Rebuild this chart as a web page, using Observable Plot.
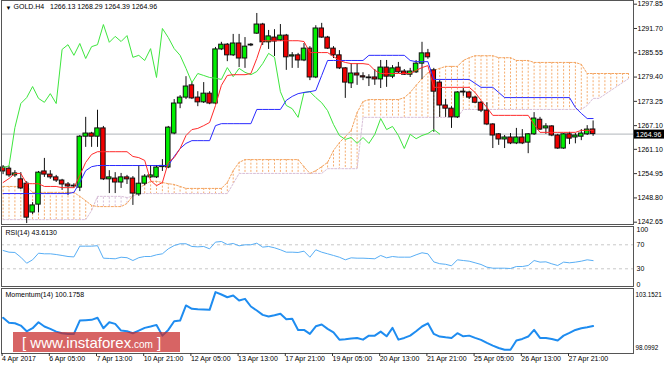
<!DOCTYPE html>
<html><head><meta charset="utf-8">
<script src="https://cdn.jsdelivr.net/npm/d3@7"></script>
<script src="https://cdn.jsdelivr.net/npm/@observablehq/plot@0.6"></script>
<style>
html,body{margin:0;padding:0;background:#fff;}
#wrap{position:relative;width:664px;height:369px;overflow:hidden;background:#fff;}
.panel{position:absolute;left:0;}
#wm{position:absolute;left:13px;top:332px;width:167px;height:20px;background:rgba(200,40,40,0.72);color:#fff;
 font-family:"Liberation Sans",Arial,sans-serif;font-size:15px;line-height:21px;white-space:pre;padding-left:9px;box-sizing:border-box;}
#wm .s{font-size:10px;}
</style></head><body>
<div id="wrap">
 <div id="main" class="panel" style="top:0"></div>
 <div id="rsi" class="panel" style="top:226px"></div>
 <div id="mom" class="panel" style="top:288px"></div>
 <div id="wm">[ www.instaforex<span class="s">.com</span> ]</div>
</div>
<script>
// ---------- data ----------
const symbol = "GOLD.H4";
const open  = [1256.5,1256.2,1254.5,1253.5,1252.4,1245.1,1247.1,1255.5,1254.7,1254.0,
 1253.2,1252.2,1251.7,1251.4,1264.3,1265.1,1264.3,1266.4,1253.5,1253.7,
 1252.7,1254.0,1253.7,1249.7,1252.4,1254.0,1254.0,1256.6,1256.5,1265.1,
 1272.7,1274.2,1277.3,1274.2,1273.0,1275.2,1272.7,1286.4,1287.6,1284.9,
 1287.9,1284.1,1287.4,1290.4,1292.7,1288.2,1289.4,1288.7,1289.9,1284.6,
 1284.9,1283.6,1286.6,1279.3,1291.7,1289.4,1286.6,1284.9,1281.6,1277.8,
 1280.3,1279.6,1279.3,1279.3,1278.8,1281.8,1279.5,1281.8,1280.8,1280.0,
 1280.6,1282.8,1285.4,1281.1,1278.0,1272.2,1271.4,1269.2,1275.5,1275.5,
 1274.2,1272.9,1270.9,1267.4,1264.9,1263.6,1264.1,1262.6,1264.1,1262.8,
 1264.9,1268.6,1266.4,1266.9,1264.6,1261.3,1264.9,1264.1,1264.3,1264.9,
 1266.13];
const high  = [1257.0,1256.8,1255.7,1255.2,1252.9,1247.6,1255.5,1258.8,1255.7,1254.5,
 1253.5,1252.7,1252.4,1264.6,1269.2,1265.4,1271.0,1266.9,1255.7,1255.2,
 1255.0,1254.5,1254.2,1257.0,1254.7,1257.0,1257.0,1258.5,1266.9,1273.7,
 1274.7,1279.5,1278.0,1275.7,1278.0,1275.7,1286.9,1288.2,1287.9,1290.2,
 1290.2,1289.4,1287.9,1295.5,1293.0,1291.2,1291.4,1292.7,1290.2,1285.6,
 1285.4,1287.9,1287.1,1292.4,1293.0,1289.7,1287.1,1286.1,1281.8,1282.8,
 1282.8,1280.5,1280.0,1281.3,1283.6,1283.6,1282.3,1283.1,1281.3,1281.6,
 1283.6,1288.2,1286.4,1281.6,1278.5,1273.7,1271.9,1275.7,1276.5,1275.7,
 1274.5,1273.2,1272.9,1267.6,1265.1,1264.6,1265.1,1266.4,1266.1,1265.1,
 1270.4,1269.2,1267.6,1267.1,1264.9,1265.1,1265.4,1265.1,1266.1,1267.1,
 1268.29];
const low   = [1254.7,1254.0,1254.0,1250.9,1242.3,1244.6,1245.0,1254.0,1253.5,1252.7,
 1250.7,1249.4,1251.2,1250.4,1261.6,1261.6,1261.6,1253.2,1249.9,1249.9,
 1251.2,1252.2,1246.9,1249.2,1251.9,1253.7,1253.7,1255.5,1256.2,1264.8,
 1271.4,1273.7,1273.7,1271.9,1272.7,1272.4,1272.4,1286.1,1283.3,1284.6,
 1281.8,1281.6,1287.1,1290.2,1287.4,1286.4,1284.6,1288.4,1281.1,1281.6,
 1281.6,1283.3,1278.5,1279.0,1289.2,1286.4,1284.1,1281.3,1274.0,1276.5,
 1277.3,1278.5,1277.0,1277.3,1276.5,1276.8,1279.0,1280.3,1279.8,1279.3,
 1280.3,1278.8,1283.9,1265.4,1269.2,1269.2,1266.4,1268.9,1274.5,1273.7,
 1272.7,1270.4,1267.1,1261.3,1262.1,1261.3,1262.3,1262.3,1262.3,1260.0,
 1264.6,1265.9,1264.9,1264.3,1261.1,1261.1,1262.3,1262.5,1263.3,1264.6,
 1264.39];
const close = [1255.5,1254.5,1255.0,1251.2,1243.8,1246.9,1255.2,1254.7,1254.0,1253.2,
 1252.2,1251.7,1251.9,1264.3,1265.1,1264.3,1266.4,1253.5,1254.0,1252.7,
 1254.0,1253.5,1249.9,1252.4,1254.2,1254.5,1256.5,1256.9,1266.6,1272.7,
 1274.2,1277.0,1274.0,1273.0,1275.2,1272.7,1286.4,1287.6,1284.9,1287.9,
 1284.1,1287.1,1287.6,1292.7,1288.2,1289.7,1288.4,1289.9,1284.4,1284.9,
 1283.6,1286.6,1279.3,1291.7,1289.4,1286.6,1284.9,1281.6,1278.0,1280.3,
 1279.8,1279.3,1279.1,1278.8,1281.8,1279.5,1281.6,1280.6,1280.0,1280.8,
 1282.8,1285.4,1284.4,1275.7,1272.2,1271.4,1269.2,1275.5,1275.7,1274.2,
 1272.9,1270.9,1267.4,1264.6,1263.6,1264.1,1262.6,1264.1,1262.6,1264.9,
 1268.9,1266.1,1266.9,1264.6,1261.3,1264.9,1263.8,1264.6,1265.1,1266.1,
 1264.96];
const tenkan = [1252.7,1253.7,1255.0,1255.0,1252.4,1252.4,1252.4,1251.7,1251.7,1251.7,
 1251.4,1251.4,1251.4,1254.5,1257.8,1259.8,1260.5,1260.5,1260.5,1260.5,
 1260.5,1260.5,1259.3,1259.0,1258.3,1253.2,1251.9,1252.7,1257.8,1259.0,
 1261.3,1264.6,1266.1,1266.4,1267.1,1267.9,1272.2,1277.3,1279.8,1280.0,
 1280.0,1280.0,1280.3,1284.1,1288.6,1288.6,1288.6,1288.6,1288.6,1288.6,
 1288.6,1288.4,1285.6,1285.6,1285.6,1285.6,1284.6,1283.6,1283.1,1282.8,
 1282.8,1282.8,1282.6,1281.1,1280.3,1280.3,1280.3,1280.3,1280.3,1280.3,
 1281.1,1281.8,1282.3,1276.8,1276.8,1276.8,1276.8,1276.8,1276.8,1276.8,
 1275.5,1273.5,1271.7,1269.7,1269.7,1269.7,1269.7,1269.7,1269.7,1269.7,
 1267.4,1265.4,1265.4,1265.4,1265.4,1265.4,1265.4,1265.4,1265.9,1265.9,
 1265.9];
const kijun = [1249.9,1249.9,1249.9,1249.9,1249.9,1249.9,1249.9,1249.9,1249.9,1249.9,
 1249.9,1249.9,1250.2,1252.7,1255.7,1256.7,1257.0,1257.0,1257.0,1257.0,
 1257.0,1257.0,1257.0,1257.0,1257.0,1257.0,1257.0,1257.0,1257.0,1259.3,
 1261.3,1262.6,1263.3,1263.3,1263.3,1263.3,1267.1,1267.6,1267.6,1267.6,
 1267.6,1267.6,1267.6,1271.2,1271.2,1271.2,1271.2,1271.2,1273.5,1274.5,
 1275.2,1275.5,1275.7,1276.0,1279.8,1283.6,1283.6,1283.6,1283.6,1283.6,
 1283.6,1283.6,1284.9,1284.9,1284.9,1284.9,1284.9,1284.9,1284.9,1283.6,
 1283.3,1283.3,1283.3,1278.8,1278.8,1278.8,1278.8,1278.8,1278.8,1278.8,
 1277.8,1276.8,1276.8,1276.8,1275.5,1274.2,1274.2,1274.2,1274.2,1274.2,
 1274.2,1274.2,1274.2,1274.2,1274.2,1274.2,1274.2,1271.7,1270.2,1268.9,
 1268.9];
// Senkou spans (shifted 26 bars ahead, bars 0..106)
const spanA = [1251.7,1251.7,1251.7,1251.7,1251.7,1250.2,1250.2,1250.2,1250.2,1250.2,
 1250.2,1250.2,1250.2,1249.2,1248.1,1246.9,1246.6,1246.6,1246.6,1246.6,
 1246.6,1247.4,1249.4,1251.2,1252.2,1253.0,1253.0,1252.7,1252.4,1252.2,
 1251.7,1251.2,1251.2,1251.2,1251.2,1251.2,1251.2,1251.2,1252.7,1255.7,
 1257.8,1258.5,1258.5,1258.5,1258.5,1258.5,1258.5,1258.5,1258.5,1258.5,
 1258.5,1256.7,1255.0,1255.7,1256.7,1257.8,1260.8,1262.8,1264.3,1265.9,
 1270.4,1273.2,1273.7,1273.7,1273.7,1273.7,1273.7,1273.7,1274.2,1275.5,
 1277.3,1279.0,1280.5,1281.1,1281.6,1282.1,1282.1,1282.1,1283.6,1284.3,
 1284.8,1284.8,1284.8,1284.8,1284.3,1284.3,1284.3,1283.6,1283.6,1283.6,
 1283.1,1283.1,1283.1,1283.1,1283.1,1283.1,1283.1,1283.1,1282.6,1280.3,
 1280.3,1280.3,1280.3,1280.3,1280.3,1280.3,1280.3];
const spanB = [1243.3,1243.3,1243.3,1243.3,1243.3,1243.3,1243.3,1243.3,1243.3,1243.3,
 1243.3,1243.3,1243.3,1243.3,1243.3,1245.6,1249.2,1249.2,1249.2,1249.2,
 1249.2,1248.9,1249.2,1249.9,1249.9,1249.9,1249.9,1249.9,1249.9,1249.9,
 1249.9,1249.9,1249.9,1249.9,1249.9,1249.9,1249.9,1249.9,1249.9,1252.4,
 1255.0,1255.0,1255.0,1255.0,1255.0,1255.0,1255.0,1255.0,1255.0,1255.0,
 1255.0,1255.0,1255.0,1255.0,1255.0,1256.2,1256.2,1256.2,1256.2,1256.2,
 1256.2,1269.2,1269.2,1269.2,1269.2,1269.2,1269.2,1269.2,1269.2,1269.2,
 1269.2,1269.2,1269.2,1269.2,1269.2,1269.2,1269.2,1269.2,1271.2,1271.2,
 1271.2,1271.2,1271.2,1271.2,1271.2,1271.2,1271.2,1271.2,1271.2,1271.2,
 1271.2,1271.2,1271.2,1271.2,1271.2,1271.2,1271.2,1271.2,1271.2,1272.2,
 1274.0,1274.0,1275.0,1276.0,1277.0,1278.0,1279.0];
const chikouShift = 26;
const rsi = [60.5,57.7,57.2,49.3,39.3,45.0,56.0,55.0,55.0,53.8,
 52.2,50.5,49.8,67.7,67.7,67.7,68.5,47.7,47.2,46.7,
 49.3,48.5,43.8,48.5,50.5,50.5,53.3,55.0,63.3,68.8,
 71.7,71.7,67.2,66.6,67.2,63.3,74.5,75.5,70.5,72.2,
 68.3,70.0,70.0,72.7,66.1,67.2,65.0,61.7,57.7,57.7,
 57.2,59.4,49.3,61.7,57.7,55.0,52.2,49.3,45.0,48.3,
 47.7,47.7,47.2,46.7,52.2,48.3,50.5,49.4,49.4,49.4,
 53.3,56.7,55.0,41.5,38.5,37.5,35.0,45.0,43.8,42.7,
 40.0,37.2,32.7,31.0,31.0,31.0,30.5,33.8,33.8,35.5,
 43.8,41.1,41.6,38.3,35.5,41.1,40.0,41.1,42.7,45.0,
 43.613];
const rsiLevels = [70, 30];
const rsiTicks = [100, 70, 30, 0];
const momentum = [100.90,100.46,100.42,100.22,99.72,99.99,100.51,100.14,99.93,99.69,
 99.55,99.49,99.49,100.66,100.69,100.72,100.90,99.99,100.51,100.37,
 99.78,99.72,99.55,99.78,100.02,100.14,100.28,99.34,99.84,100.60,
 100.66,101.98,101.69,101.65,101.63,101.60,103.1521,102.94,102.70,102.85,
 102.41,102.56,101.89,101.54,101.16,101.01,101.12,101.25,100.77,100.81,
 99.84,99.84,99.49,100.16,100.31,99.93,99.63,98.99,99.02,99.08,
 99.14,98.99,99.34,99.34,99.69,99.28,100.02,98.99,99.14,99.34,
 99.72,100.14,100.42,99.49,99.26,99.19,99.14,99.55,99.28,99.34,
 99.14,98.97,98.70,98.47,98.26,98.0992,98.10,98.91,99.05,99.26,
 99.84,99.14,99.14,99.05,98.91,99.34,99.58,99.84,99.99,100.07,
 100.1758];
const priceTicks = [1297.85,1291.70,1285.55,1279.40,1273.25,1267.10,1261.10,1254.95,1248.80,1242.65];
const timeTickBars = [0,8,16,24,32,40,48,56,64,72,80,88,96];
const timeTickLabels = ["4 Apr 2017","6 Apr 05:00","7 Apr 13:00","10 Apr 21:00","12 Apr 05:00","13 Apr 13:00",
 "17 Apr 21:00","19 Apr 05:00","20 Apr 13:00","21 Apr 21:00","25 Apr 05:00","26 Apr 13:00","27 Apr 21:00"];

// ---------- build ----------
const FONT = "Liberation Sans, Arial, sans-serif";
const n = close.length;
const last = n - 1;
const lastClose = close[last];
const bars = open.map((o, i) => ({i, o, h: high[i], l: low[i], c: close[i]}));
const cloud = spanA.map((a, i) => ({i, a, b: spanB[i]}));
const chikou = close.map((c, k) => ({i: k - chikouShift, v: c})).filter(d => d.i >= 0);
const xScale = {domain: [0, 100], range: [2.6, 592.6], axis: null};
const style = {background: "white", fontFamily: FONT, fontSize: "7px", color: "black", overflow: "visible"};
const hw = 0.38;

function priceBox(index, scales, values, dims) {
  const y = scales.y(lastClose) + 0.5;
  const x0 = dims.width - dims.marginRight + 1;
  const g = d3.create("svg:g");
  g.append("rect").attr("x", x0).attr("y", y - 4.5).attr("width", dims.width - x0).attr("height", 9).attr("fill", "#000");
  g.append("text").attr("x", x0 + 2).attr("y", y).attr("dy", "0.35em").attr("fill", "#fff")
    .attr("text-anchor", "start").attr("font-size", 7).attr("font-family", FONT).text(lastClose.toFixed(2));
  return g.node();
}

const titleStr = symbol + "\u00a0\u00a0\u00a0" + [open[last], high[last], low[last], close[last]].map(v => v.toFixed(2)).join(" ");

const mainPlot = Plot.plot({
  width: 664, height: 225,
  marginLeft: 1, marginRight: 31, marginTop: 0, marginBottom: 1,
  style,
  x: xScale,
  y: {domain: [1242.65, 1297.85], range: [221.7, 3.7], axis: null},
  marks: [
    Plot.ruleX(cloud.filter(d => d.a >= d.b), {x: "i", y1: "a", y2: "b", stroke: "#f4a460", strokeDasharray: "2,1.6", strokeWidth: 1, strokeOpacity: 0.9}),
    Plot.ruleX(cloud.filter(d => d.a < d.b), {x: "i", y1: "a", y2: "b", stroke: "#d8bfd8", strokeDasharray: "2,1.6", strokeWidth: 1}),
    Plot.line(cloud, {x: "i", y: "b", stroke: "#d8bfd8", strokeDasharray: "2,1.6", strokeWidth: 1}),
    Plot.line(cloud, {x: "i", y: "a", stroke: "#f4a460", strokeDasharray: "2,1.6", strokeWidth: 1}),
    Plot.ruleY([lastClose], {stroke: "#c0c4c8", strokeWidth: 1.2}),
    Plot.ruleX(bars, {x: "i", y1: "l", y2: "h", stroke: "#111", strokeWidth: 1}),
    Plot.rect(bars.filter(d => d.c >= d.o), {x1: d => d.i - hw, x2: d => d.i + hw, y1: "o", y2: "c", fill: "#00f000", stroke: "#111", strokeWidth: 1}),
    Plot.rect(bars.filter(d => d.c < d.o), {x1: d => d.i - hw, x2: d => d.i + hw, y1: "o", y2: "c", fill: "#f00000", stroke: "#111", strokeWidth: 1}),
    Plot.line(chikou, {x: "i", y: "v", stroke: "#3ee63e", strokeWidth: 1}),
    Plot.line(kijun, {x: (d, i) => i, y: d => d, stroke: "#2a2aff", strokeWidth: 1}),
    Plot.line(tenkan, {x: (d, i) => i, y: d => d, stroke: "#ff2a2a", strokeWidth: 1}),
    Plot.frame({stroke: "#555"}),
    Plot.axisY(priceTicks, {anchor: "right", tickSize: 3, tickPadding: 1, tickFormat: d => d.toFixed(2), fontSize: 7, stroke: "#333", fill: "#000", label: null}),
    Plot.text(["\u25BC"], {text: d => d, frameAnchor: "top-left", dx: 4, dy: 5, lineAnchor: "top", textAnchor: "start", fontSize: 6, fill: "#000"}),
    Plot.text([titleStr], {text: d => d, frameAnchor: "top-left", dx: 12, dy: 4, lineAnchor: "top", textAnchor: "start", fontSize: 7, fill: "#000"}),
    priceBox
  ]
});
document.getElementById("main").appendChild(mainPlot);

const rsiPlot = Plot.plot({
  width: 664, height: 61,
  marginLeft: 1, marginRight: 31, marginTop: 0, marginBottom: 1,
  style,
  x: xScale,
  y: {domain: [0, 100], range: [60.3, 0.3], axis: null},
  marks: [
    Plot.ruleY(rsiLevels, {stroke: "#c8c8c8", strokeDasharray: "3,3", strokeWidth: 1}),
    Plot.line(rsi, {x: (d, i) => i, y: d => d, stroke: "#58aef5", strokeWidth: 1}),
    Plot.frame({stroke: "#555"}),
    Plot.text([rsiTicks[0]], {y: d => d, text: d => String(d), frameAnchor: "right", dx: 3, textAnchor: "start", lineAnchor: "top", fontSize: 7, fill: "#000"}),
    Plot.text(rsiTicks.slice(1, 3), {y: d => d, text: d => String(d), frameAnchor: "right", dx: 3, textAnchor: "start", lineAnchor: "middle", fontSize: 7, fill: "#000"}),
    Plot.text([rsiTicks[3]], {y: d => d, text: d => String(d), frameAnchor: "right", dx: 3, textAnchor: "start", lineAnchor: "bottom", fontSize: 7, fill: "#000"}),
    Plot.text(["RSI(14) " + rsi[last].toFixed(4)], {text: d => d, frameAnchor: "top-left", dx: 4, dy: 4, lineAnchor: "top", textAnchor: "start", fontSize: 7, fill: "#000"})
  ]
});
document.getElementById("rsi").appendChild(rsiPlot);

const mMax = d3.max(momentum), mMin = d3.min(momentum);
const labelOf = new Map(timeTickBars.map((b, k) => [b, timeTickLabels[k]]));
const momPlot = Plot.plot({
  width: 664, height: 81,
  marginLeft: 1, marginRight: 31, marginTop: 0, marginBottom: 16,
  style,
  x: xScale,
  y: {domain: [mMin, mMax], range: [61.3, 3.6], axis: null},
  marks: [
    Plot.line(momentum, {x: (d, i) => i, y: d => d, stroke: "#1e8cf0", strokeWidth: 2}),
    Plot.frame({stroke: "#555"}),
    Plot.text([mMax], {y: d => d, text: d => d.toFixed(4), frameAnchor: "right", dx: 2, textAnchor: "start", lineAnchor: "top", fontSize: 6.3, fill: "#000"}),
    Plot.text([mMin], {y: d => d, text: d => d.toFixed(4), frameAnchor: "right", dx: 2, textAnchor: "start", lineAnchor: "bottom", fontSize: 6.3, fill: "#000"}),
    Plot.text(["Momentum(14) " + momentum[last].toFixed(4)], {text: d => d, frameAnchor: "top-left", dx: 4, dy: 4, lineAnchor: "top", textAnchor: "start", fontSize: 7, fill: "#000"}),
    Plot.axisX(timeTickBars, {anchor: "bottom", tickSize: 3, tickPadding: 0, tickFormat: d => labelOf.get(d), textAnchor: "start", dx: -1, fontSize: 7, stroke: "#333", fill: "#000", label: null})
  ]
});
document.getElementById("mom").appendChild(momPlot);
</script>
</body></html>
